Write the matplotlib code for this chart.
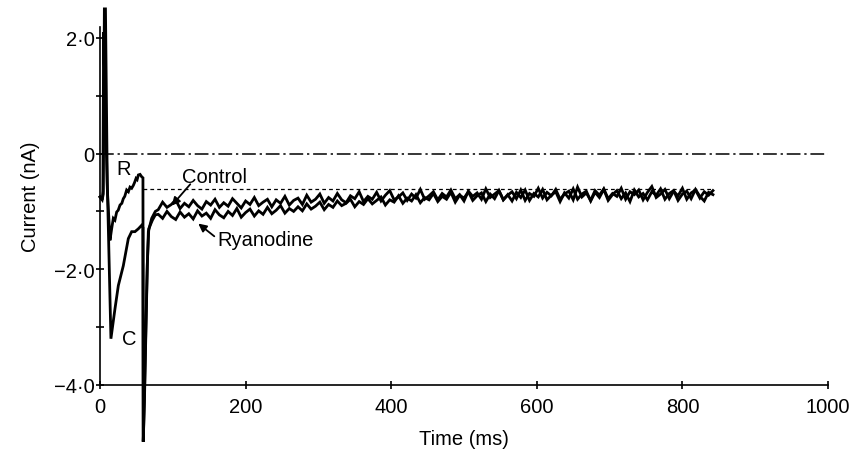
import matplotlib.pyplot as plt
import numpy as np

# --- data (time in ms, current in nA) ---
# depolarising pulse + tail, control trace
t_control_early = [0, 3, 4.5, 6, 7.5, 10, 15, 20.6, 25.2, 32, 38.9, 43.5, 48, 52.7, 57.2, 59,
                   59.4, 61, 63, 65, 66.4, 71, 76]
i_control_early = [-0.75, -0.8, -0.7, 2.5, 2.5, -0.5, -3.2, -2.68, -2.28, -1.94, -1.47, -1.35, -1.35, -1.3, -1.24, -1.28,
                   -4.98, -4.3, -3.1, -1.93, -1.35, -1.12, -1.0]
# depolarising pulse + tail, ryanodine trace
t_ryan_early = [0, 3, 4, 5, 6.5, 10, 13.7, 16, 18.3, 20.5, 22.9, 25, 27.5, 30, 32, 34, 36.6, 39, 41.2, 43.5,
                45.8, 47.5, 49.5, 51, 52.7, 55, 57.2, 59,
                59.4, 61, 63, 65, 67, 72, 76]
i_ryan_early = [-0.75, -0.8, -0.65, 2.1, 1.2, -0.6, -1.5, -1.3, -1.12, -1.15, -1.01, -0.98, -0.89, -0.86, -0.78, -0.74,
                -0.63, -0.66, -0.58, -0.6, -0.55, -0.5, -0.43, -0.45, -0.37, -0.36, -0.4, -0.42,
                -4.98, -4.2, -3.0, -1.9, -1.3, -1.15, -1.06]

# slow relaxation after the pulse, sampled every 6 ms from 80 to 842 ms
t_late = np.arange(80, 843, 6)
i_control_late = [
    -0.97, -0.84, -0.93, -0.88, -0.80, -0.95, -0.86, -0.92,
    -0.81, -0.90, -0.96, -0.83, -0.89, -0.79, -0.93, -0.85,
    -0.91, -0.78, -0.86, -0.94, -0.82, -0.88, -0.76, -0.90,
    -0.84, -0.79, -0.92, -0.80, -0.86, -0.74, -0.89, -0.81,
    -0.77, -0.88, -0.72, -0.84, -0.79, -0.70, -0.86, -0.76,
    -0.82, -0.69, -0.80, -0.85, -0.73, -0.78, -0.66, -0.83,
    -0.74, -0.79, -0.67, -0.82, -0.72, -0.64, -0.80, -0.75,
    -0.68, -0.81, -0.70, -0.77, -0.62, -0.79, -0.73, -0.66,
    -0.80, -0.69, -0.75, -0.63, -0.78, -0.71, -0.82, -0.65,
    -0.74, -0.68, -0.79, -0.61, -0.76, -0.70, -0.64, -0.80,
    -0.72, -0.66, -0.78, -0.63, -0.81, -0.69, -0.74, -0.60,
    -0.77, -0.67, -0.73, -0.62, -0.79, -0.70, -0.65, -0.80,
    -0.58, -0.75, -0.68, -0.81, -0.64, -0.72, -0.61, -0.78,
    -0.69, -0.74, -0.60, -0.79, -0.66, -0.71, -0.63, -0.80,
    -0.67, -0.57, -0.76, -0.70, -0.62, -0.78, -0.65, -0.73,
    -0.60, -0.79, -0.68, -0.63, -0.77, -0.66, -0.72, -0.64]
i_ryan_late = [
    -1.05, -1.12, -1.00, -1.09, -1.14, -1.01, -1.10, -1.04,
    -1.13, -0.99, -1.08, -1.03, -1.12, -0.97, -1.06, -1.11,
    -1.00, -1.07, -0.95, -1.10, -1.02, -0.96, -1.08, -0.99,
    -1.05, -0.93, -1.04, -0.98, -0.90, -1.03, -0.95, -1.00,
    -0.92, -0.99, -0.87, -0.96, -0.91, -0.84, -0.97, -0.88,
    -0.93, -0.82, -0.90, -0.86, -0.79, -0.92, -0.83, -0.88,
    -0.78, -0.87, -0.81, -0.75, -0.89, -0.80, -0.84, -0.73,
    -0.86, -0.77, -0.82, -0.71, -0.85, -0.76, -0.80, -0.69,
    -0.83, -0.74, -0.79, -0.67, -0.84, -0.72, -0.77, -0.66,
    -0.81, -0.73, -0.68, -0.83, -0.70, -0.78, -0.64, -0.80,
    -0.71, -0.82, -0.67, -0.76, -0.63, -0.81, -0.69, -0.75,
    -0.62, -0.80, -0.72, -0.66, -0.83, -0.68, -0.77, -0.61,
    -0.79, -0.70, -0.65, -0.82, -0.67, -0.76, -0.62, -0.81,
    -0.71, -0.64, -0.78, -0.68, -0.83, -0.63, -0.75, -0.69,
    -0.80, -0.66, -0.72, -0.61, -0.79, -0.69, -0.64, -0.81,
    -0.70, -0.65, -0.78, -0.62, -0.74, -0.82, -0.67, -0.71]

dashed_level = -0.605
x_ticks = [0, 200, 400, 600, 800, 1000]
y_ticks = [-4, -3, -2, -1, 0, 1, 2]
y_tick_labels = ['\u22124\u00b70', '', '\u22122\u00b70', '', '0', '', '2\u00b70']

plt.rcParams['font.family'] = ['Liberation Sans', 'DejaVu Sans']

fig = plt.figure(figsize=(8.52, 4.52), dpi=100)
ax = fig.add_axes([100 / 852, 66 / 452, 728 / 852, 379 / 452])

t_control = np.concatenate([t_control_early, t_late])
i_control = np.concatenate([i_control_early, i_control_late])
t_ryan = np.concatenate([t_ryan_early, t_late])
i_ryan = np.concatenate([i_ryan_early, i_ryan_late])

ax.plot(t_ryan, i_ryan, color='black', lw=2.0, clip_on=False, solid_joinstyle='miter')
ax.plot(t_control, i_control, color='black', lw=2.0, clip_on=False, solid_joinstyle='miter')

# reference lines
ax.plot([0, 1000], [0, 0], color='black', lw=1.1, dashes=(9, 2.5, 1.5, 2.5))
ax.plot([59, 840], [dashed_level, dashed_level], color='black', lw=0.9, dashes=(3, 2.5))

ax.set_xlim(0, 1000)
ax.set_ylim(-4, 2.55)
ax.spines['top'].set_visible(False)
ax.spines['right'].set_visible(False)
ax.spines['left'].set_bounds(-4, 2.18)
ax.spines['left'].set_linewidth(1.2)
ax.spines['bottom'].set_linewidth(1.2)

ax.set_xticks(x_ticks)
ax.set_yticks(y_ticks)
ax.set_yticklabels(y_tick_labels)
ax.tick_params(direction='inout', length=6, width=1.2, labelsize=14.5)
ax.tick_params(axis='x', pad=6)
ax.tick_params(axis='y', pad=1)

ax.set_xlabel('Time (ms)', fontsize=14.5, labelpad=9)
ax.set_ylabel('Current (nA)', fontsize=14.5, labelpad=10)

# trace labels and arrows
ax.text(33, -0.26, 'R', fontsize=14.5, ha='center', va='center')
ax.text(40, -3.2, 'C', fontsize=14.5, ha='center', va='center')
ax.text(112, -0.39, 'Control', fontsize=14.5, ha='left', va='center')
ax.annotate('', xy=(98.5, -0.90), xytext=(124, -0.53),
            arrowprops=dict(arrowstyle='-|>', color='black', lw=1.3, shrinkA=0, shrinkB=0,
                            mutation_scale=12))
ax.text(161, -1.48, 'Ryanodine', fontsize=14.5, ha='left', va='center')
ax.annotate('', xy=(135, -1.21), xytext=(157, -1.43),
            arrowprops=dict(arrowstyle='-|>', color='black', lw=1.3, shrinkA=0, shrinkB=0,
                            mutation_scale=12))

fig.savefig('out.png', dpi=100)
